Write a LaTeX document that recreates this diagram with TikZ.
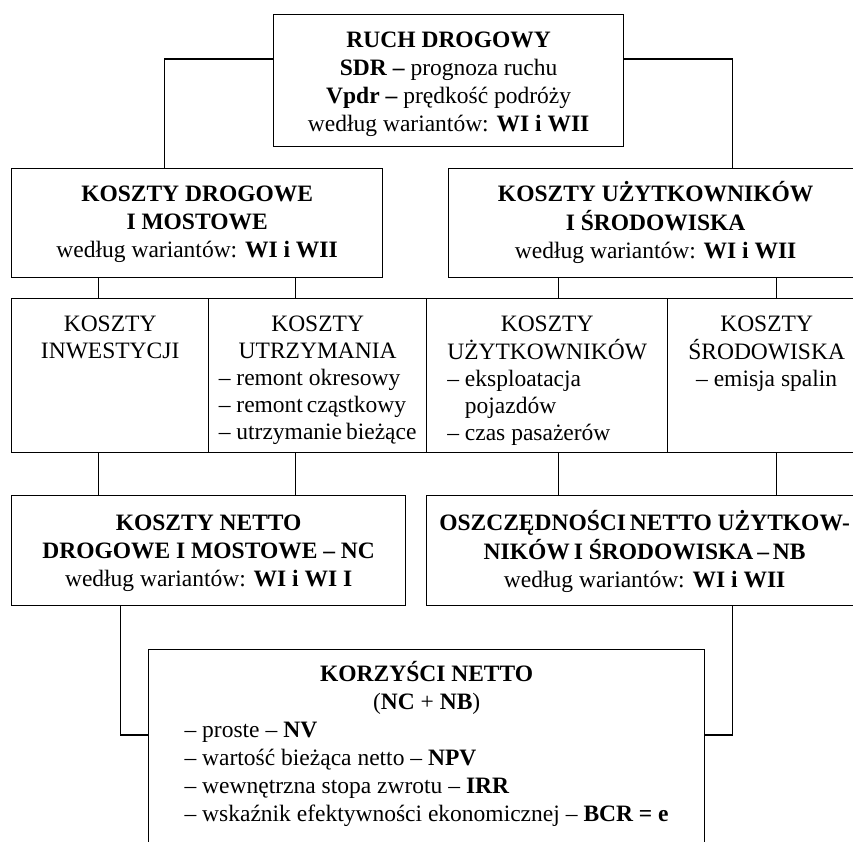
\documentclass[tikz,border=0pt]{standalone}
\usepackage{fontspec}
\setmainfont{Liberation Serif}
\usepackage{array}

\newcommand{\hd}[1]{\multicolumn{1}{@{}c@{}}{#1}}

\tikzset{
	box/.style={draw, rectangle, anchor=north west, inner sep=0pt, font=\fontsize{23.5}{28}\selectfont},
	midbox/.style={box, font=\fontsize{23.5}{27}\selectfont, text height=33pt, text depth=121pt}
}

\begin{document}
\begin{tikzpicture}[x=1pt, y=-1pt, line width=1.3pt]
			\path[use as bounding box, clip] (0,0) rectangle (853,841);
			% traffic
			\node[box, minimum width=350pt, text height=33pt, text depth=99pt] (ruch) at (273,14)
			{\begin{tabular}[t]{@{}c@{}}\textbf{RUCH DROGOWY}\\ \textbf{SDR –} prognoza ruchu\\ \textbf{Vpdr –} prędkość podróży\\ według wariantów: \textbf{WI i WII}\end{tabular}};
			
			% costs
			\node[box, minimum width=371pt, text height=33pt, text depth=76pt] (kdm) at (11,168)
			{\begin{tabular}[t]{@{}c@{}}\textbf{KOSZTY DROGOWE}\\ \textbf{I MOSTOWE}\\ według wariantów: \textbf{WI i WII}\end{tabular}};
			\node[box, minimum width=414pt, text height=33pt, text depth=76pt] (kus) at (448,168)
			{\begin{tabular}[t]{@{}c@{}}\textbf{KOSZTY UŻYTKOWNIKÓW}\\ \textbf{I ŚRODOWISKA}\\ według wariantów: \textbf{WI i WII}\end{tabular}};
			
			% cost groups
			\node[midbox, minimum width=197pt] (ki) at (11,298)
			{\begin{tabular}[t]{@{}c@{}}KOSZTY\\ INWESTYCJI\end{tabular}};
			\node[midbox, minimum width=218pt] (km) at (208,298)
			{\begin{tabular}[t]{@{}l@{}}\hd{KOSZTY}\\ \hd{UTRZYMANIA}\\ – remont okresowy\\ – remont\,cząstkowy\\ – utrzymanie\,bieżące\end{tabular}};
			\node[midbox, minimum width=241pt] (kuz) at (426,298)
			{\begin{tabular}[t]{@{}l@{}}\hd{KOSZTY}\\ UŻYTKOWNIKÓW\\ – eksploatacja\\ \phantom{– }pojazdów\\ – czas pasażerów\end{tabular}};
			\node[midbox, minimum width=198pt] (ks) at (667,298)
			{\begin{tabular}[t]{@{}c@{}}KOSZTY\\ ŚRODOWISKA\\ – emisja spalin\end{tabular}};
			
			% net values
			\node[box, minimum width=394pt, text height=35pt, text depth=75pt] (netc) at (11,495)
			{\begin{tabular}[t]{@{}c@{}}\textbf{KOSZTY NETTO}\\ \textbf{DROGOWE I MOSTOWE – NC}\\ według wariantów: \textbf{WI i WI I}\end{tabular}};
			\node[box, minimum width=436pt, text height=35pt, text depth=75pt] (netb) at (426,495)
			{\begin{tabular}[t]{@{}c@{}}\textbf{OSZCZĘDNOŚCI\,NETTO UŻYTKOW-}\\ \textbf{NIKÓW\,I ŚRODOWISKA\,–\,NB}\\ według wariantów: \textbf{WI i WII}\end{tabular}};
			
			% benefits
			\node[box, minimum width=556pt, text height=32pt, text depth=200pt] (korz) at (148,649)
			{\begin{tabular}[t]{@{}l@{}}\hd{\textbf{KORZYŚCI NETTO}}\\ \hd{(\textbf{NC} + \textbf{NB})}\\ – proste – \textbf{NV}\\ – wartość bieżąca netto – \textbf{NPV}\\ – wewnętrzna stopa zwrotu – \textbf{IRR}\\ – wskaźnik efektywności ekonomicznej – \textbf{BCR = e}\end{tabular}};
			
			% connectors
			\draw ([yshift=-45pt]ruch.north west) -| ([xshift=-32.5pt]kdm.north);
			\draw ([yshift=-45pt]ruch.north east) -| ([xshift=77pt]kus.north);
			\foreach \n/\s/\u/\d in {ki/-11.5/kdm/netc, km/-22/kdm/netc, kuz/11.5/kus/netb, ks/10/kus/netb}{
				\draw ([xshift=\s pt]\n.north) -- ([xshift=\s pt]\n.north |- \u.south);
				\draw ([xshift=\s pt]\n.south) -- ([xshift=\s pt]\n.south |- \d.north);
			}
			\draw ([xshift=-88pt]netc.south) |- ([yshift=-86pt]korz.north west);
			\draw ([xshift=88pt]netb.south) |- ([yshift=-86pt]korz.north east);
\end{tikzpicture}
\end{document}
